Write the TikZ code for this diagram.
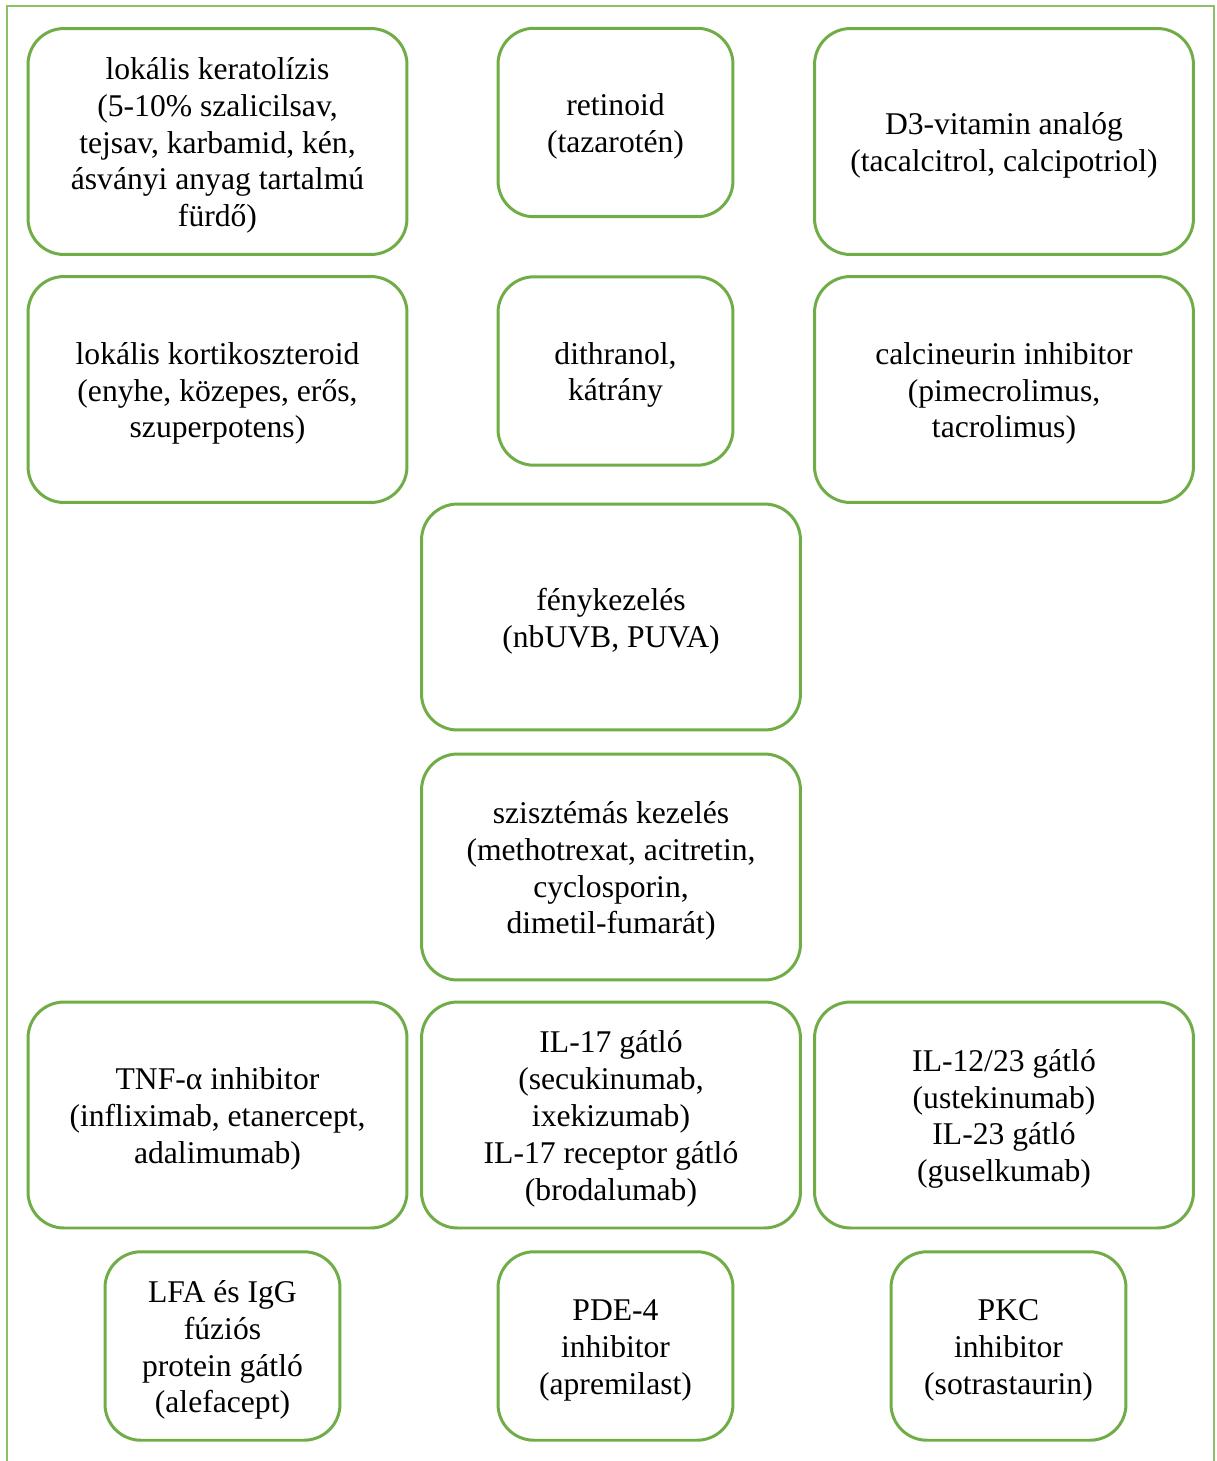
\documentclass[tikz,border=0pt]{standalone}
\usepackage{fontspec}
\setmainfont{Liberation Serif}
\usepackage{tikz}
\usetikzlibrary{shapes, positioning, backgrounds}
\definecolor{boxgreen}{HTML}{70AD47}
\definecolor{framegreen}{HTML}{8CC168}
\newcommand{\topstrut}{\rule{0pt}{17pt}}
\tikzstyle{box} = [draw=boxgreen, line width=1.7pt, rounded corners=0.72cm, align=center, inner sep=0pt, font=\fontsize{18}{21}\selectfont]
\tikzstyle{widebox} = [box, minimum width=7.58cm, minimum height=4.52cm]
\tikzstyle{smallbox} = [box, minimum width=4.7cm, minimum height=3.77cm]

\begin{document}
\begin{tikzpicture}[x=0.02cm, y=-0.02cm, background rectangle/.style={fill=white}, show background rectangle]

    \useasboundingbox (0, 0) rectangle (1217, 1461);
    \draw [framegreen, line width=1.2pt] (7, 1470) -- (7, 6) -- (1214, 6) -- (1214, 1470);

    \node [widebox] (kera) at (217.5, 141.5) {\topstrut lokális keratolízis\\(5-10\% szalicilsav,\\tejsav, karbamid, kén,\\ásványi anyag tartalmú\\fürdő)};
    \node [smallbox] (retin) at (615.5, 122.5) {\topstrut retinoid\\(tazarotén)};
    \node [widebox] (dvit) at (1004, 141.5) {\topstrut D3-vitamin analóg\\(tacalcitrol, calcipotriol)};

    \node [widebox] (kort) at (217.5, 389.5) {\topstrut lokális kortikoszteroid\\(enyhe, közepes, erős,\\szuperpotens)};
    \node [smallbox] (dith) at (615.5, 371) {\topstrut dithranol,\\kátrány};
    \node [widebox] (calc) at (1004, 389.5) {\topstrut calcineurin inhibitor\\(pimecrolimus,\\tacrolimus)};

    \node [widebox] (feny) at (611, 617) {\topstrut fénykezelés\\(nbUVB, PUVA)};
    \node [widebox] (sziszt) at (611, 867) {\topstrut szisztémás kezelés\\(methotrexat, acitretin,\\cyclosporin,\\dimetil-fumarát)};

    \node [widebox] (tnf) at (217.5, 1115) {\topstrut TNF-α inhibitor\\(infliximab, etanercept,\\adalimumab)};
    \node [widebox] (ilt) at (611, 1115) {\topstrut IL-17 gátló\\(secukinumab,\\ixekizumab)\\IL-17 receptor gátló\\(brodalumab)};
    \node [widebox] (iltt) at (1004, 1115) {\topstrut IL-12/23 gátló\\(ustekinumab)\\IL-23 gátló\\(guselkumab)};

    \node [smallbox] (lfa) at (222.5, 1346) {\topstrut LFA és IgG\\fúziós\\protein gátló\\(alefacept)};
    \node [smallbox] (pde) at (615.5, 1346) {\topstrut PDE-4\\inhibitor\\(apremilast)};
    \node [smallbox] (pkc) at (1008.5, 1346) {\topstrut PKC\\inhibitor\\(sotrastaurin)};

\end{tikzpicture}
\end{document}
